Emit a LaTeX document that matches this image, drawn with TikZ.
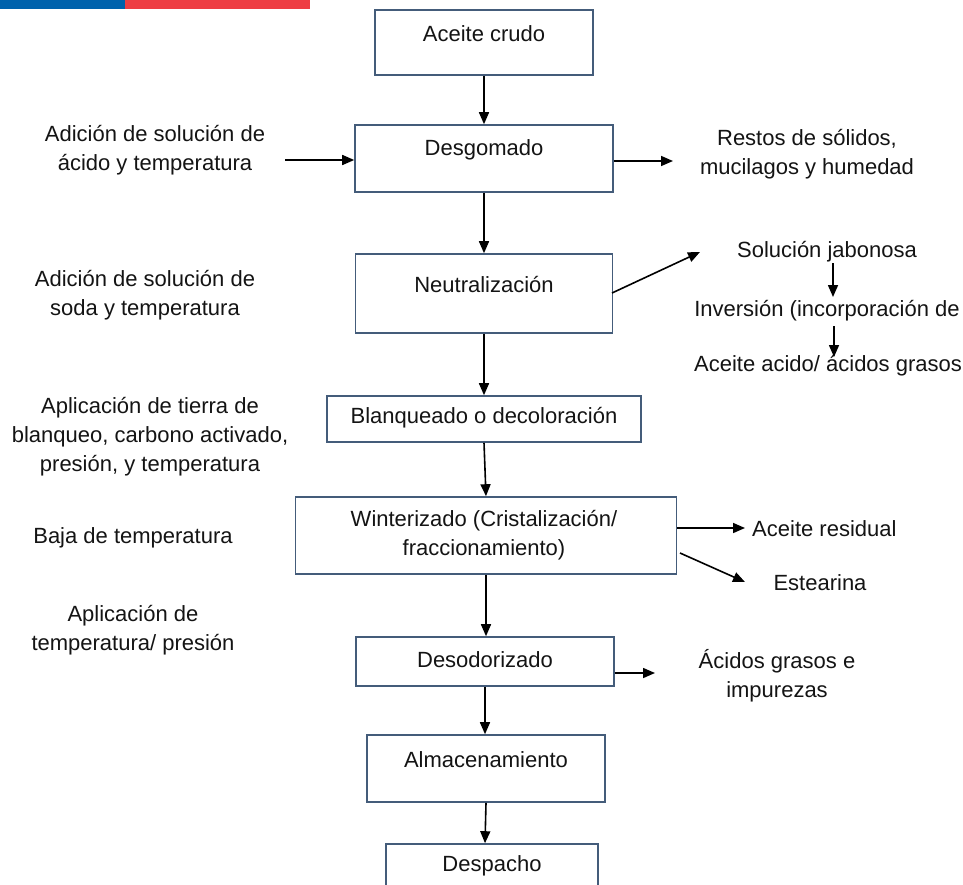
\documentclass[tikz,border=0pt]{standalone}
\usepackage{fontspec}
\setmainfont{Liberation Sans}
\usetikzlibrary{arrows.meta}
\definecolor{boxline}{RGB}{68,92,122}
\definecolor{txtcol}{RGB}{20,20,20}
\definecolor{barblue}{RGB}{0,98,172}
\definecolor{barred}{RGB}{238,62,68}
\begin{document}
\begin{tikzpicture}[x=1pt,y=-1pt,
  box/.style={draw=boxline,line width=1.6pt,fill=white,inner sep=0pt},
  txt/.style={text=txtcol,font=\fontsize{22}{29}\selectfont,align=center,inner sep=0pt},
  arr/.style={line width=1.6pt,draw=black,-{Triangle[length=12pt,width=10pt]}}]
\useasboundingbox (0,0) rectangle (963,884);
\clip (0,0) rectangle (963,884);
\fill[white] (0,0) rectangle (963,884);
% header bars
\fill[barblue] (0,0) rectangle (125,9);
\fill[barred] (125,0) rectangle (310,9);
% boxes
\node[box,minimum width=218pt,minimum height=65pt] (b1) at (484,42.5) {};
\node[txt] (t1) at (484,34) {Aceite crudo};
\node[box,minimum width=258pt,minimum height=67pt] (b2) at (484,158.5) {};
\node[txt] (t2) at (484,150) {Desgomado};
\node[box,minimum width=257pt,minimum height=79pt] (b3) at (484,293.5) {};
\node[txt] (t3) at (484,285) {Neutralización};
\node[box,minimum width=314pt,minimum height=46pt] (b4) at (484,419) {};
\node[txt] (t4) at (484,418) {Blanqueado o decoloración};
\node[box,minimum width=381pt,minimum height=77pt] (b5) at (486,535.5) {};
\node[txt] (t5) at (484,535) {Winterizado (Cristalización/\\fraccionamiento)};
\node[box,minimum width=258pt,minimum height=49pt] (b6) at (485,661.5) {};
\node[txt] (t6) at (485,660) {Desodorizado};
\node[box,minimum width=238pt,minimum height=67pt] (b7) at (486,768.5) {};
\node[txt] (t7) at (486,760) {Almacenamiento};
\node[box,minimum width=212pt,minimum height=80pt] (b8) at (492,884) {};
\node[txt] (t8) at (492,866) {Despacho};
% main flow
\draw[arr] (b1.south) -- (b1.south |- b2.north);
\draw[arr] (b2.south) -- (b2.south |- b3.north);
\draw[arr] (b3.south) -- (b3.south |- b4.north);
\draw[arr] (b4.south) -- ([xshift=2pt]b4.south |- b5.north);
\draw[arr] (b5.south) -- (b5.south |- b6.north);
\draw[arr] (b6.south) -- (b6.south |- b7.north);
\draw[arr] (b7.south) -- ([xshift=-1pt]b7.south |- b8.north);
% left inputs
\node[txt] (l1) at (155,150) {Adición de solución de\\ácido y temperatura};
\coordinate (l1a) at (285,160);
\draw[arr] (l1a) -- (b2.west |- l1a);
\node[txt] (l2) at (145,295) {Adición de solución de\\soda y temperatura};
\node[txt] (l3) at (150,437) {Aplicación de tierra de\\blanqueo, carbono activado,\\presión, y temperatura};
\node[txt] (l4) at (133,538) {Baja de temperatura};
\node[txt] (l5) at (133,630) {Aplicación de\\temperatura/ presión};
% right outputs
\node[txt] (r1) at (807,154) {Restos de sólidos,\\mucilagos y humedad};
\coordinate (r1a) at (673,161);
\draw[arr] (b2.east |- r1a) -- (r1a);
\coordinate (r2a) at (612,293);
\coordinate (r2b) at (700,252);
\draw[arr] (r2a) -- (r2b);
\node[txt] (r2) at (827,252) {Solución jabonosa};
\node[txt] (r3) at (827,311) {Inversión (incorporación de};
\node[txt] (r4) at (828,366) {Aceite acido/ ácidos grasos};
\draw[arr] (833,263) -- (833,297);
\draw[arr] (834,326) -- (834,357);
\node[txt,anchor=west] (r5) at (752,529) {Aceite residual};
\coordinate (r5a) at (745,528);
\draw[arr] (b5.east |- r5a) -- (r5a);
\node[txt] (r6) at (820,583) {Estearina};
\coordinate (r6a) at (680,553);
\coordinate (r6b) at (745,582);
\draw[arr] (r6a) -- (r6b);
\node[txt] (r7) at (777,676) {Ácidos grasos e\\impurezas};
\coordinate (r7a) at (655,673);
\draw[arr] (b6.east |- r7a) -- (r7a);
\end{tikzpicture}
\end{document}
